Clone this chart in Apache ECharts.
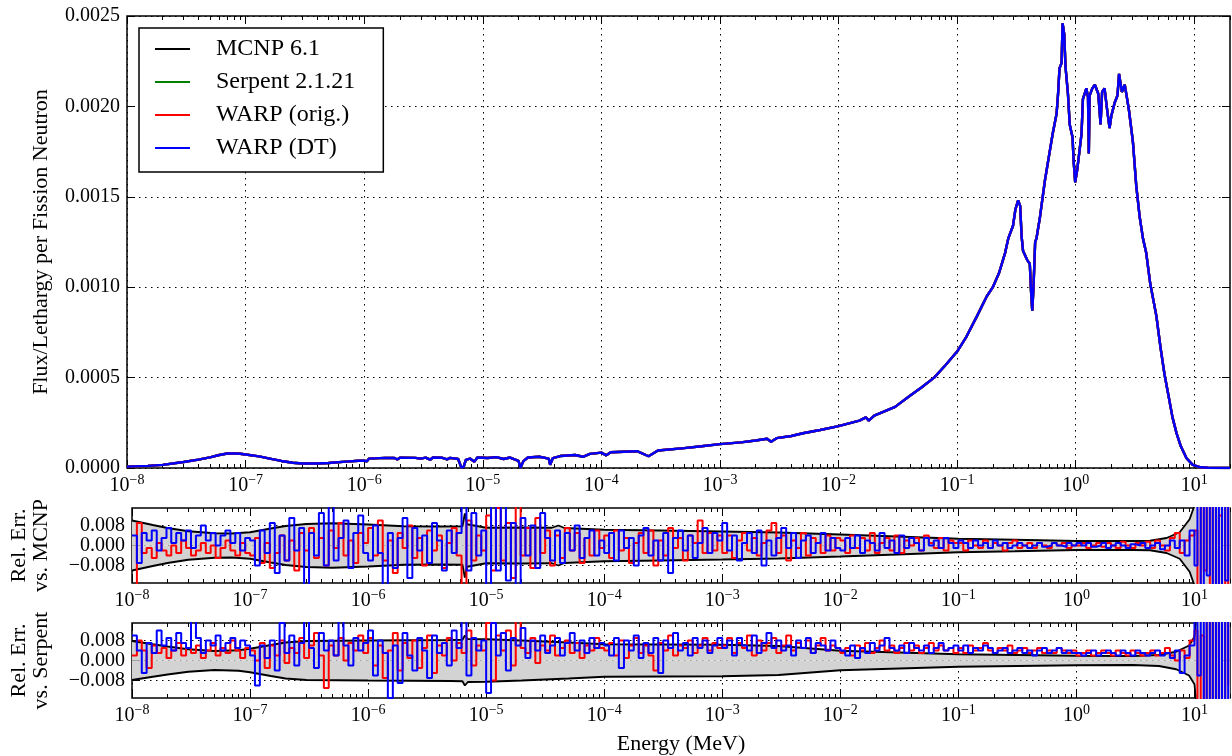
<!doctype html>
<html>
<head>
<meta charset="UTF-8">
<title>Flux per lethargy</title>
<style>
	html, body { margin: 0; padding: 0; background: #fff; }
	#chart { width: 1232px; height: 756px; }
</style>
</head>
<body>
<div id="chart"></div>
<script src="https://cdn.jsdelivr.net/npm/echarts@6.0.0/dist/echarts.min.js"></script>
<script>
var FONT = '"Liberation Serif", "Times New Roman", serif';

// flux/lethargy per fission neutron, [energy MeV, value] - the four codes lie on top of each other
var fluxPoints = [
	[1e-8,.0000074],[1.5e-8,.000012],[2e-8,.000017],[3e-8,.000033],[4e-8,.000046],[5e-8,.000059],
	[6e-8,.000072],[7e-8,.00008],[8e-8,.000081],[9e-8,.000079],[1e-7,.000075],[1.3e-7,.000064],
	[1.6e-7,.000052],[2e-7,.000039],[2.5e-7,.000029],[3e-7,.000025],[4e-7,.000025],[5e-7,.000028],
	[7e-7,.000035],[9e-7,.00004],[1e-6,.000041],[1.05e-6,.000036],[1.1e-6,.000052],[1.5e-6,.000056],
	[1.8e-6,.000055],[1.9e-6,.000047],[2e-6,.000057],[2.7e-6,.000056],[3e-6,.000052],[3.3e-6,.000057],
	[3.6e-6,.000046],[3.8e-6,.000058],[4.5e-6,.000057],[5e-6,.000048],[5.3e-6,.000056],[6.2e-6,.00005],
	[6.6e-6,.000002],[6.9e-6,.000006],[7.2e-6,.000045],[7.8e-6,.000052],[8.5e-6,.000035],[9e-6,.000058],
	[1.1e-5,.000055],[1.3e-5,.00006],[1.5e-5,.00005],[1.7e-5,.000058],[2e-5,.00004],[2.08e-5,.000001],
	[2.2e-5,.000038],[2.4e-5,.000058],[3e-5,.000062],[3.6e-5,.000052],[3.7e-5,.000018],[3.9e-5,.000055],
	[4.5e-5,.000066],[6e-5,.000072],[7e-5,.000062],[8e-5,.000078],[1e-4,.000085],[1.1e-4,.00007],
	[1.2e-4,.000087],[2e-4,.000093],[2.5e-4,.000065],[3e-4,.000097],[5e-4,.00011],[7e-4,.00012],
	[1e-3,.000132],[1.5e-3,.000142],[2e-3,.000152],[2.5e-3,.000162],[2.7e-3,.000145],[3e-3,.000165],
	[4e-3,.000177],[5e-3,.000192],[7e-3,.00021],[1e-2,.000232],[1.5e-2,.000262],[1.7e-2,.00028],
	[1.8e-2,.000262],[2e-2,.00029],[3e-2,.000338],[4e-2,.0004],[5e-2,.000445],[6.4e-2,.0005],
	[8e-2,.00057],[.1,.000644],[.12,.000727],[.147,.00084],[.178,.00095],[.2,.001],
	[.226,.00108],[.254,.00119],[.27,.00127],[.296,.00134],[.31,.00143],[.327,.00148],
	[.34,.00145],[.35,.00128],[.36,.0012],[.39,.00115],[.41,.00113],[.42,.00098],
	[.43,.00087],[.44,.00099],[.455,.00125],[.467,.00127],[.5,.00139],[.55,.00159],
	[.6,.00174],[.64,.00185],[.69,.00196],[.71,.00207],[.73,.00221],[.76,.00224],
	[.775,.00246],[.8,.0024],[.82,.00222],[.86,.00207],[.89,.0019],[.94,.00183],
	[.96,.0017],[.99,.00158],[1.03,.00165],[1.07,.00174],[1.12,.00185],[1.15,.00204],
	[1.23,.0021],[1.27,.00205],[1.29,.00174],[1.31,.00206],[1.38,.0021],[1.45,.00212],
	[1.55,.00207],[1.62,.0019],[1.67,.00208],[1.75,.0021],[1.85,.00197],[1.93,.00188],
	[2,.00195],[2.13,.00202],[2.25,.00206],[2.32,.00218],[2.45,.00208],[2.59,.00212],
	[2.7,.00205],[2.81,.00198],[2.95,.00187],[3.04,.0018],[3.24,.00156],[3.46,.00139],
	[3.69,.00127],[3.93,.00119],[4.25,.00102],[4.79,.00084],[5.18,.00067],[5.6,.00052],
	[6.06,.0004],[6.55,.00028],[7.1,.00019],[7.7,.00012],[8.6,.000054],[9.7,.000017],
	[11.3,.000004],[13,.000001],[20,0]
];

// 1-sigma statistical band of each comparison, [energy MeV, sigma]
var sigmaMcnp = [
	[1e-8,.0100],[1.5e-8,.0082],[2e-8,.0070],[3e-8,.0057],[5e-8,.0049],[7e-8,.0048],[1e-7,.0053],
	[1.5e-7,.0068],[2e-7,.0078],[3e-7,.0086],[5e-7,.0089],[1e-6,.0084],[2e-6,.0077],[4e-6,.0076],
	[6.3e-6,.0077],[6.6e-6,.0128],[6.9e-6,.0085],[1e-5,.0071],[2e-5,.0072],[3.6e-5,.0071],[4.1e-5,.0080],
	[4.6e-5,.0070],[1e-4,.0063],[3e-4,.0060],[1e-3,.0056],[3e-3,.0052],[1e-2,.0044],[3e-2,.0036],
	[.1,.0027],[.3,.0023],[1,.0018],[3,.0018],[4.2,.0019],[5.8,.003],[7.5,.0053],[9.1,.0105],
	[10,.016],[11,.05],[20,.1]
];
var sigmaSerpent = [
	[1e-8,.0078],[1.5e-8,.0065],[2e-8,.0056],[3e-8,.0045],[5e-8,.0038],[8e-8,.0041],[1e-7,.0047],
	[1.5e-7,.0062],[2e-7,.0072],[3e-7,.0078],[1e-6,.0080],[5e-6,.0082],[6.3e-6,.0083],[6.6e-6,.0100],
	[7e-6,.0086],[1e-5,.0085],[2e-5,.0080],[5e-5,.0072],[1e-4,.0065],[1e-3,.0063],[3e-3,.0058],
	[1e-2,.0039],[.1,.0025],[1,.0019],[3,.0018],[5,.0022],[7,.0035],[9,.0060],[10,.0095],
	[11,.03],[20,.1]
];

// energy bins of the relative error plots: 24 per decade, then the tail above 10 MeV
var decadeMantissas = [1, 1.1, 1.21, 1.33, 1.47, 1.62, 1.78, 1.96, 2.15, 2.37, 2.61, 2.87,
	3.16, 3.48, 3.83, 4.22, 4.64, 5.11, 5.62, 6.19, 6.81, 7.5, 8.25, 9.09];
var decades = [-8, -7, -6, -5, -4, -3, -2, -1, 0];
var tailEnergies = [10, 10.6, 11.3, 12, 12.7, 13.5, 14.3, 15.2, 16.1, 17.1, 18.2, 19.3];

// relative error vs. MCNP, one row per decade, last row is the tail
var origVsMcnp = [
	[-.016,.009,-.003,-.001,-.005,.001,-.002,-.004,.000,-.003,.002,-.001,-.004,-.002,.001,-.003,.000,-.005,-.001,.002,-.002,-.004,.001,-.003],
	[-.004,.003,-.007,.001,-.009,-.003,.004,-.006,.002,-.010,.005,-.002,.007,-.005,.003,-.008,.006,-.001,.009,-.004,.002,-.007,.005,.001],
	[.007,-.004,.010,-.006,.002,-.011,.005,-.001,.008,-.005,.003,-.008,.006,-.002,.004,-.009,.001,.007,-.004,-.016,.010,-.006,.004,-.002],
	[.012,-.010,.015,-.006,.009,-.013,.016,-.004,.007,-.009,.011,-.003,.006,-.008,.004,-.005,.007,-.002,.005,-.007,.003,-.004,.006,-.001],
	[.004,-.005,.006,-.002,.003,-.007,.001,.005,-.003,.006,-.008,.002,-.004,.007,-.001,.003,-.006,.004,.001,.010,-.003,.005,-.002,.004],
	[-.003,.004,-.005,.002,.005,-.002,.003,-.004,.001,.006,.009,-.003,.004,-.006,.002,-.001,.005,-.004,.003,.001,-.003,.004,-.002,.003],
	[.002,-.003,.004,-.001,.003,-.002,.005,-.003,.001,.003,-.002,.004,-.003,.002,.000,.003,-.002,.004,.001,-.001,.003,-.002,.002,.001],
	[.001,-.002,.002,.000,-.001,.002,-.001,.001,.000,-.002,.001,.002,-.001,.000,.001,-.001,.001,.000,-.001,.001,.000,.001,-.001,.000],
	[.000,.001,-.001,.000,.001,-.0005,.001,.000,-.001,.0015,.000,-.001,.001,.000,.0015,-.001,.002,.000,-.002,.003,.005,-.003,.002,.004],
	[.006,-.016,.016,-.010,.016,-.016,.016,-.016,.012,-.016,.016,-.016]
];
var dtVsMcnp = [
	[.004,-.007,.005,.002,.006,-.002,.003,.007,.001,.005,.002,.006,-.001,.004,.008,.002,.005,.000,.004,.006,.001,.005,-.002,.003],
	[.002,-.008,.006,-.003,.009,-.011,.004,-.006,.011,-.002,.007,-.016,.005,-.004,.013,-.008,.016,-.006,.003,.010,-.009,.005,.012,-.003],
	[-.006,.008,-.003,-.016,.005,-.009,.003,.011,-.013,.007,-.002,.004,-.007,.009,.002,-.010,.006,-.003,.005,.016,-.010,.013,-.004,.006],
	[-.016,.016,-.010,.016,-.014,.009,-.016,.011,-.004,.008,-.009,.013,.003,-.006,.006,-.007,.005,-.002,.008,-.005,.003,.006,-.004,.002],
	[-.003,.005,-.006,.006,-.001,.003,-.008,.004,.007,-.004,.002,-.006,.005,-.011,.003,.006,-.002,.004,-.005,.001,.007,-.003,.005,.002],
	[.009,-.002,.004,-.006,.001,.005,-.003,.006,-.008,.002,-.004,.003,.007,-.001,.005,-.005,.002,.004,-.003,.001,.005,-.002,.003,-.001],
	[-.002,.003,-.001,.004,-.003,.002,.001,-.002,.005,-.001,.002,-.003,.004,-.001,.003,.001,-.002,.003,.000,.002,-.001,.003,.001,-.001],
	[.002,.001,-.001,.002,.000,.001,-.001,.002,.000,.001,-.001,.000,.001,.000,-.001,.000,.001,-.0005,.000,.001,.000,-.0005,.001,.000],
	[.001,.000,.001,-.0005,.000,.001,-.001,.000,.001,.000,-.001,.0005,.000,.001,-.001,.000,.001,-.0015,.000,.002,-.001,.002,-.004,.006],
	[-.008,.016,-.016,.016,-.012,.016,-.016,.016,-.016,.016,-.014,.016]
];

// relative error vs. Serpent
var origVsSerpent = [
	[.002,.008,.004,-.003,.006,.003,.005,.001,.004,.007,.002,.005,.003,.006,.001,.004,.007,.002,.005,.003,.008,.004,.001,.005],
	[.004,.000,.007,-.003,.006,.002,.008,-.001,.005,.003,.009,.001,.006,.011,.002,-.011,.006,.002,.009,.000,.007,.004,.010,.003],
	[.009,-.002,.006,-.007,.004,.011,-.004,.007,.001,.008,-.003,.005,.010,-.005,.006,.002,.009,.000,.007,.003,.012,-.002,.006,.004],
	[.015,-.008,.010,.004,.012,-.002,.016,.005,.003,.009,-.001,.006,.004,.010,.002,.005,.008,.003,.007,.001,.006,.004,.009,.005],
	[.004,.007,.002,.008,.001,.006,.009,.003,.006,.002,-.004,.007,.004,.010,.002,.006,.005,.008,.003,.006,.009,.004,.007,.005],
	[.006,.009,.003,.007,.005,.010,.002,.008,.004,.007,.009,.003,.006,.010,.004,.007,.005,.008,.003,.006,.009,.004,.006,.005],
	[.003,.005,.002,.006,.004,.007,.003,.005,.008,.004,.006,.003,.005,.007,.004,.006,.003,.005,.007,.004,.006,.004,.005,.003],
	[.005,.003,.006,.004,.005,.007,.004,.003,.005,.004,.006,.003,.004,.005,.003,.004,.005,.003,.004,.003,.005,.004,.003,.004],
	[.002,.003,.004,.002,.003,.004,.003,.002,.004,.003,.002,.004,.003,.002,.003,.004,.002,.003,.005,.002,.000,.004,.001,.008],
	[.012,-.016,.010,-.016,.016,-.016,.016,-.016,.016,-.016,.016,-.010]
];
var dtVsSerpent = [
	[.010,.004,-.005,.007,.003,.012,.006,.009,.004,.011,.007,.005,.016,.009,.003,.008,.006,.010,.004,.007,.009,.005,.008,.006],
	[.002,-.010,.006,.001,.008,-.004,.015,.003,.010,-.002,.007,.016,.005,-.003,.011,.004,.008,.002,.016,.006,-.002,.009,.004,.007],
	[.012,-.006,.008,.003,-.015,.006,-.009,.011,.002,-.004,.009,.004,-.007,.010,.003,.007,-.002,.012,.005,.016,-.006,.009,.004,.008],
	[-.013,.015,.002,.011,-.004,.009,.006,.013,.001,.008,.004,.010,.003,.006,.009,.002,.007,.011,.004,.008,.003,.009,.005,.007],
	[.006,.002,.009,-.003,.008,.004,.010,.001,.007,.003,.009,-.005,.008,.005,.011,.004,.007,.002,.009,.005,.008,.003,.006,.009],
	[.005,.008,.002,.009,.006,.004,.010,.003,.007,.011,.005,.008,.004,.006,.002,.008,.005,.009,.003,.007,.006,.004,.008,.005],
	[.004,.002,.006,.001,.005,.003,.007,.004,.006,.009,.005,.004,.006,.003,.007,.005,.004,.006,.003,.005,.007,.004,.005,.006],
	[.004,.006,.003,.005,.004,.006,.005,.003,.004,.005,.003,.004,.005,.003,.004,.002,.004,.005,.003,.004,.005,.003,.004,.003],
	[.003,.002,.003,.004,.002,.003,.004,.003,.002,.004,.003,.002,.004,.003,.002,.003,.004,.002,.003,.001,.004,-.005,.002,.006],
	[.016,-.006,.016,-.016,.016,-.016,.016,-.016,.016,-.016,.016,-.016]
];

var majorTicks = [1e-8, 1e-7, 1e-6, 1e-5, 1e-4, 1e-3, 1e-2, 1e-1, 1, 10];
var minorMantissas = [2, 3, 4, 5, 6, 7, 8, 9];
var errTicks = [-0.008, 0, 0.008];

var minorTicks = [];
decades.concat([1]).forEach(function (d) {
	minorMantissas.forEach(function (m) {
		var v = +(m * Math.pow(10, d)).toPrecision(3);
		if (v <= 20) minorTicks.push(v);
	});
});

// [energy, value] pairs, row by row
function pairs(rows) {
	var out = [];
	rows.forEach(function (row, r) {
		var energies = r < decades.length
			? decadeMantissas.map(function (m) { return +(m * Math.pow(10, decades[r])).toPrecision(4); })
			: tailEnergies;
		row.forEach(function (v, i) {
			if (i < energies.length) out.push([energies[i], v]);
		});
	});
	return out;
}
function negate(band) {
	return band.map(function (p) { return [p[0], -p[1]]; });
}

function supLabel(v) {
	var e = Math.round(Math.log10(v));
	return '{b|10}{s|' + (e < 0 ? '\u2212' + (-e) : e) + '}';
}

var dotted = { color: '#000', width: 1, type: [1.5, 4.5] };
var tickLine = { color: '#000', width: 1 };
var titleStyle = { fontFamily: FONT, fontSize: 22, color: '#000', lineHeight: 22 };

function xAxesFor(g, name) {
	var common = {
		type: 'log', logBase: 10, min: 1e-8, max: 20, gridIndex: g,
		axisLine: { show: false, onZero: false },
		splitLine: { show: false },
		axisLabel: { show: false }
	};
	var main = Object.assign({}, common, {
		position: 'bottom',
		axisTick: { inside: true, length: 8, customValues: majorTicks, lineStyle: tickLine },
		axisLabel: {
			show: true, customValues: majorTicks, margin: 5, formatter: supLabel,
			showMinLabel: true, showMaxLabel: true, hideOverlap: false,
			rich: {
				b: { fontFamily: FONT, fontSize: 20, color: '#000' },
				s: { fontFamily: FONT, fontSize: 14, color: '#000', padding: [0, 0, 12, 0] }
			}
		},
		splitLine: { show: true, lineStyle: dotted }
	});
	if (name) {
		main.name = name;
		main.nameLocation = 'middle';
		main.nameGap = 35;
		main.nameTextStyle = titleStyle;
	}
	return [
		main,
		Object.assign({}, common, { position: 'bottom', axisTick: { inside: true, length: 4, customValues: minorTicks, lineStyle: tickLine } }),
		Object.assign({}, common, { position: 'top', axisTick: { inside: true, length: 8, customValues: majorTicks, lineStyle: tickLine } }),
		Object.assign({}, common, { position: 'top', axisTick: { inside: true, length: 4, customValues: minorTicks, lineStyle: tickLine } })
	];
}

function yAxesFor(g, name, gap, opts) {
	var left = Object.assign({
		type: 'value', gridIndex: g, position: 'left',
		axisLine: { show: false },
		axisTick: { inside: true, length: 8, lineStyle: tickLine },
		axisLabel: {
			fontFamily: FONT, fontSize: 20, lineHeight: 14, color: '#000', margin: 7,
			showMinLabel: true, showMaxLabel: true, hideOverlap: false
		},
		splitLine: { show: true, lineStyle: dotted },
		name: name, nameLocation: 'middle', nameGap: gap,
		nameTextStyle: titleStyle
	}, opts.common);
	Object.assign(left.axisLabel, opts.label);
	Object.assign(left.axisTick, opts.tick);
	var right = Object.assign({
		type: 'value', gridIndex: g, position: 'right',
		axisLine: { show: false },
		axisTick: Object.assign({ inside: true, length: 8, lineStyle: tickLine }, opts.tick),
		axisLabel: { show: false },
		splitLine: { show: false }
	}, opts.common);
	return [left, right];
}

function fmtErr(v) {
	if (Math.abs(v) < 1e-9) return '0.000';
	return (v < 0 ? '\u2212' : '') + Math.abs(v).toFixed(3);
}

var errOpts = {
	common: { min: -0.015, max: 0.015 },
	label: { customValues: errTicks, formatter: fmtErr },
	tick: { customValues: errTicks }
};

var gridBase = { show: true, borderColor: '#000', borderWidth: 1.5, backgroundColor: 'transparent', containLabel: false };

function band(data, xi, yi) {
	return {
		type: 'line', data: data, xAxisIndex: xi, yAxisIndex: yi,
		showSymbol: false, symbol: 'none', silent: true,
		lineStyle: { color: '#000', width: 1.8 },
		areaStyle: { color: '#d3d3d3', opacity: 1 },
		z: 1
	};
}
function noisy(name, rows, color, xi, yi) {
	return {
		name: name, type: 'line', data: pairs(rows), xAxisIndex: xi, yAxisIndex: yi,
		step: 'end', showSymbol: false, symbol: 'none', silent: true,
		color: color, lineStyle: { color: color, width: 2 }, z: 3
	};
}
function fluxLine(name, color) {
	return {
		name: name, type: 'line', data: fluxPoints, xAxisIndex: 0, yAxisIndex: 0,
		showSymbol: false, symbol: 'none', silent: true,
		color: color, lineStyle: { color: color, width: 2.4 }
	};
}

var option = {
	animation: false,
	backgroundColor: '#fff',
	grid: [
		Object.assign({ left: 127, top: 16, width: 1103, height: 452 }, gridBase),
		Object.assign({ left: 127, top: 508, width: 1103, height: 75 }, gridBase),
		Object.assign({ left: 127, top: 623, width: 1103, height: 75 }, gridBase)
	],
	legend: {
		data: ['MCNP 6.1', 'Serpent 2.1.21', 'WARP (orig.)', 'WARP (DT)'],
		orient: 'vertical', left: 139, top: 28,
		padding: [9, 28, 12, 16], itemGap: 9,
		icon: 'rect', itemWidth: 35, itemHeight: 2,
		backgroundColor: '#fff', borderColor: '#000', borderWidth: 1.5, borderRadius: 0,
		textStyle: { fontFamily: FONT, fontSize: 24, color: '#000', lineHeight: 24, padding: [0, 0, 0, 21] }
	},
	xAxis: xAxesFor(0).concat(xAxesFor(1)).concat(xAxesFor(2, 'Energy (MeV)')),
	yAxis: yAxesFor(0, 'Flux/Lethargy per Fission Neutron', 75, {
		common: { min: 0, max: 0.0025, interval: 0.0005 },
		label: { formatter: function (v) { return v.toFixed(4); } },
		tick: {}
	}).concat(yAxesFor(1, 'Rel. Err.\nvs. MCNP', 80, errOpts))
	  .concat(yAxesFor(2, 'Rel. Err.\nvs. Serpent', 80, errOpts)),
	series: [
		fluxLine('MCNP 6.1', '#000000'),
		fluxLine('Serpent 2.1.21', '#008000'),
		fluxLine('WARP (orig.)', '#ff0000'),
		fluxLine('WARP (DT)', '#0000ff'),

		band(sigmaMcnp, 4, 2),
		band(negate(sigmaMcnp), 4, 2),
		noisy('WARP (orig.) vs. MCNP', origVsMcnp, '#ff0000', 4, 2),
		noisy('WARP (DT) vs. MCNP', dtVsMcnp, '#0000ff', 4, 2),

		band(sigmaSerpent, 8, 4),
		band(negate(sigmaSerpent), 8, 4),
		noisy('WARP (orig.) vs. Serpent', origVsSerpent, '#ff0000', 8, 4),
		noisy('WARP (DT) vs. Serpent', dtVsSerpent, '#0000ff', 8, 4)
	]
};

var chart = echarts.init(document.getElementById('chart'), null, { renderer: 'canvas' });
chart.setOption(option);
</script>
</body>
</html>
